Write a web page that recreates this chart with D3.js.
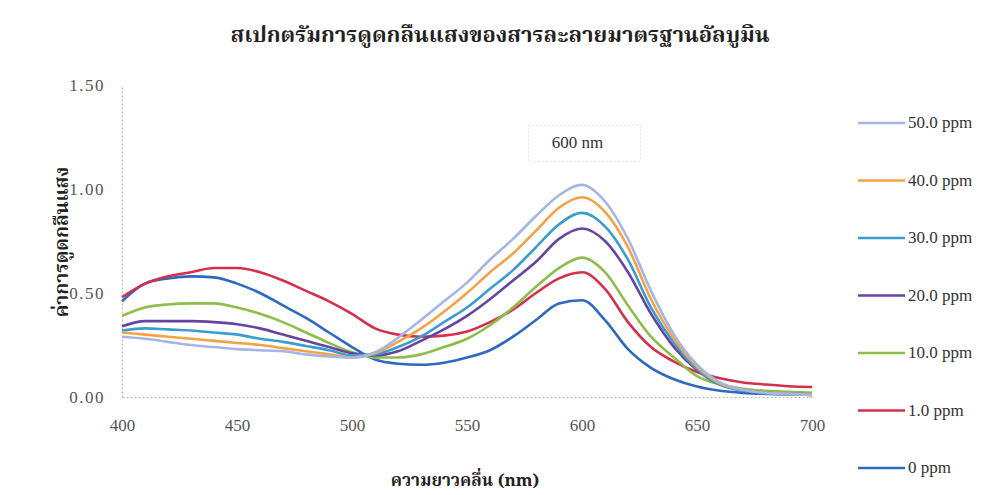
<!DOCTYPE html>
<html>
<head>
<meta charset="utf-8">
<script src="https://cdn.jsdelivr.net/npm/d3@7"></script>
<style>
  body { margin: 0; background: #fff; }
  .thai { font-family: "Noto Serif Thai", "Noto Sans Thai", "Norasi", "Loma", "Garuda", serif; font-weight: bold; }
  .tick text { font-family: "Liberation Serif", serif; }
</style>
</head>
<body>
<script>
const wavelengths = d3.range(400, 701, 10);

const ppm50 = [0.29, 0.28, 0.265, 0.25, 0.24, 0.23, 0.225, 0.22, 0.205, 0.195, 0.19, 0.215, 0.285, 0.37, 0.46, 0.55, 0.66, 0.76, 0.87, 0.97, 1.02, 0.94, 0.76, 0.51, 0.30, 0.155, 0.07, 0.035, 0.02, 0.015, 0.01];
const ppm40 = [0.31, 0.30, 0.29, 0.28, 0.27, 0.26, 0.25, 0.235, 0.22, 0.205, 0.19, 0.21, 0.265, 0.33, 0.41, 0.50, 0.60, 0.69, 0.80, 0.91, 0.96, 0.89, 0.72, 0.47, 0.28, 0.145, 0.065, 0.035, 0.02, 0.015, 0.01];
const ppm30 = [0.32, 0.33, 0.325, 0.32, 0.31, 0.30, 0.28, 0.265, 0.245, 0.225, 0.20, 0.205, 0.24, 0.29, 0.36, 0.43, 0.52, 0.61, 0.72, 0.83, 0.885, 0.82, 0.66, 0.43, 0.26, 0.135, 0.06, 0.03, 0.02, 0.015, 0.01];
const ppm20 = [0.34, 0.365, 0.365, 0.365, 0.36, 0.35, 0.33, 0.30, 0.27, 0.24, 0.21, 0.20, 0.22, 0.27, 0.325, 0.39, 0.47, 0.56, 0.65, 0.76, 0.81, 0.75, 0.60, 0.40, 0.24, 0.13, 0.06, 0.035, 0.02, 0.015, 0.012];
const ppm10 = [0.39, 0.43, 0.445, 0.45, 0.45, 0.43, 0.40, 0.36, 0.31, 0.26, 0.215, 0.19, 0.19, 0.205, 0.24, 0.28, 0.345, 0.43, 0.53, 0.62, 0.67, 0.60, 0.44, 0.29, 0.19, 0.10, 0.06, 0.04, 0.03, 0.025, 0.02];
const ppm1 = [0.48, 0.545, 0.58, 0.60, 0.62, 0.62, 0.60, 0.56, 0.51, 0.46, 0.40, 0.33, 0.30, 0.29, 0.295, 0.315, 0.36, 0.42, 0.50, 0.57, 0.60, 0.52, 0.36, 0.24, 0.17, 0.12, 0.09, 0.07, 0.06, 0.052, 0.048];
const ppm0 = [0.46, 0.545, 0.57, 0.58, 0.575, 0.545, 0.50, 0.44, 0.38, 0.31, 0.24, 0.18, 0.16, 0.155, 0.165, 0.19, 0.225, 0.29, 0.37, 0.45, 0.465, 0.37, 0.23, 0.14, 0.085, 0.05, 0.03, 0.02, 0.015, 0.012, 0.01];

const seriesNames = ['50.0 ppm', '40.0 ppm', '30.0 ppm', '20.0 ppm', '10.0 ppm', '1.0 ppm', '0 ppm'];
const seriesValues = [ppm50, ppm40, ppm30, ppm20, ppm10, ppm1, ppm0];
const xTicks = [400, 450, 500, 550, 600, 650, 700];
const yTicks = [0, 0.5, 1.0, 1.5];

const titleText = 'สเปกตรัมการดูดกลืนแสงของสารละลายมาตรฐานอัลบูมิน';
const xTitle = 'ความยาวคลื่น (nm)';
const yTitle = 'ค่าการดูดกลืนแสง';
const noteText = '600 nm';

const colors = ['#a6b6e4', '#f4a246', '#3b9dcf', '#6544a4', '#8dbd4b', '#d4304d', '#2e69c0'];

const width = 994;
const height = 495;
const margin = { top: 85, right: 182, bottom: 98, left: 122 };

let svg = d3.select('body')
    .append('svg')
    .attr('width', width)
    .attr('height', height);

let x = d3.scaleLinear()
    .domain([400, 700])
    .range([margin.left, width - margin.right]);
let y = d3.scaleLinear()
    .domain([0, 1.5])
    .range([height - margin.bottom, margin.top]);

// axes: dotted grey lines, labels only
let xAxis = svg.append('g')
    .attr('transform', `translate(0, ${y(0)})`)
    .call(d3.axisBottom(x).tickValues(xTicks).tickSize(0).tickPadding(22));
let yAxis = svg.append('g')
    .attr('transform', `translate(${x(400)}, 0)`)
    .call(d3.axisLeft(y).tickValues(yTicks).tickSize(0).tickPadding(17).tickFormat(d3.format('.2f')));

[xAxis, yAxis].forEach(a => {
    a.select('.domain')
        .attr('stroke', '#b5b5b5')
        .attr('stroke-dasharray', '2,2');
    a.selectAll('.tick text')
        .attr('font-size', 17)
        .attr('fill', '#555');
});
yAxis.selectAll('.tick text')
    .attr('letter-spacing', 1.5);

let line = d3.line()
    .x((d, i) => x(wavelengths[i]))
    .y(d => y(d))
    .curve(d3.curveMonotoneX);

svg.append('g')
    .selectAll('path')
    .data(seriesValues.slice().reverse())
    .join('path')
    .attr('d', d => line(d))
    .attr('fill', 'none')
    .attr('stroke', (d, i) => colors[colors.length - 1 - i])
    .attr('stroke-width', 2.6)
    .attr('stroke-linejoin', 'round');

// 600 nm label box
svg.append('rect')
    .attr('x', x(601) - 56)
    .attr('y', y(1.22) - 18)
    .attr('width', 112)
    .attr('height', 36)
    .attr('fill', '#fff')
    .attr('stroke', '#e2e2e2')
    .attr('stroke-dasharray', '2,2');
svg.append('text')
    .attr('x', x(598))
    .attr('y', y(1.22) + 5)
    .attr('text-anchor', 'middle')
    .attr('font-family', 'Liberation Serif, serif')
    .attr('font-size', 17)
    .attr('fill', '#333')
    .text(noteText);

// titles
svg.append('text')
    .attr('class', 'thai')
    .attr('x', 500)
    .attr('y', 42)
    .attr('text-anchor', 'middle')
    .attr('font-size', 22)
    .attr('fill', '#222')
    .text(titleText);

svg.append('text')
    .attr('class', 'thai')
    .attr('x', 465)
    .attr('y', 486)
    .attr('text-anchor', 'middle')
    .attr('font-size', 17)
    .attr('fill', '#222')
    .text(xTitle);

svg.append('text')
    .attr('class', 'thai')
    .attr('transform', 'translate(68, 242) rotate(-90)')
    .attr('text-anchor', 'middle')
    .attr('font-size', 19)
    .attr('fill', '#222')
    .text(yTitle);

// legend
let legend = svg.append('g')
    .attr('transform', 'translate(858, 123)');
let rows = legend.selectAll('g')
    .data(seriesNames)
    .join('g')
    .attr('transform', (d, i) => `translate(0, ${i * 57.5})`);
rows.append('line')
    .attr('x1', 0)
    .attr('x2', 47)
    .attr('stroke', (d, i) => colors[i])
    .attr('stroke-width', 2.6);
rows.append('text')
    .attr('x', 50)
    .attr('y', 5)
    .attr('font-family', 'Liberation Serif, serif')
    .attr('font-size', 17)
    .attr('fill', '#333')
    .text(d => d);
</script>
</body>
</html>
